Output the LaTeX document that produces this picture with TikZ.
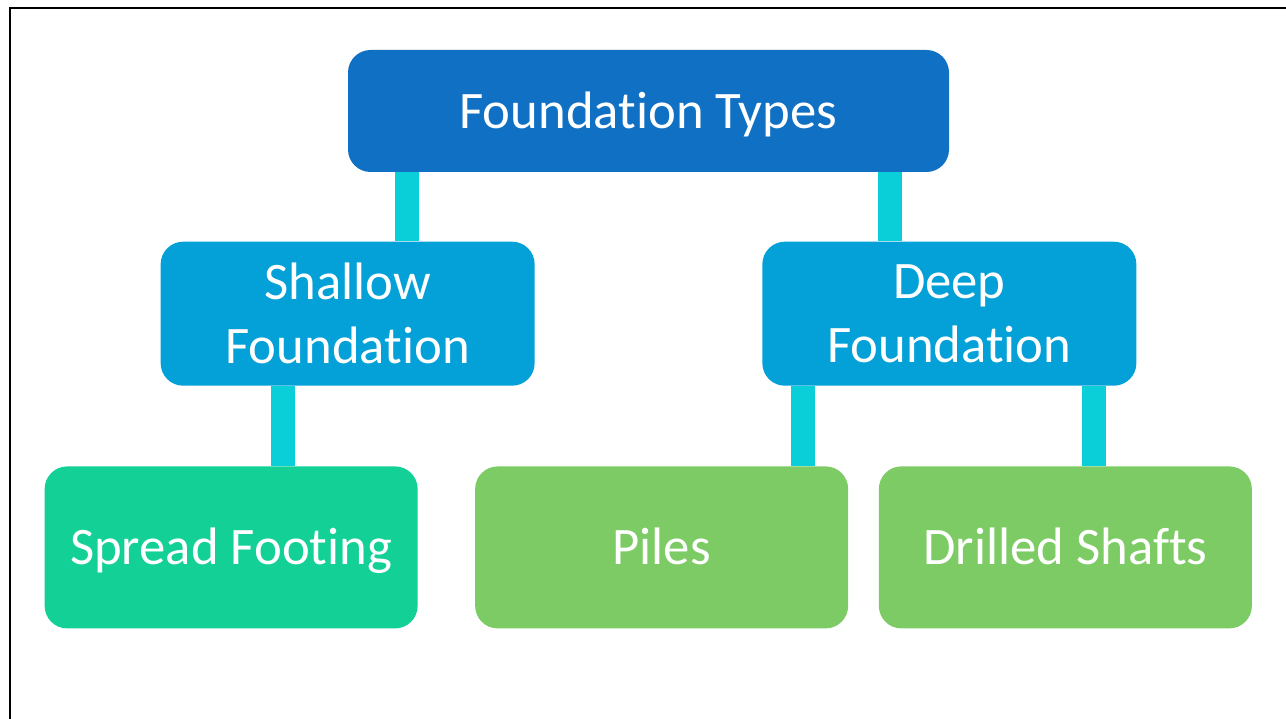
\documentclass[tikz,border=0pt]{standalone}
\usepackage{fontspec}
\setmainfont{Carlito}[Ligatures=NoCommon,RawFeature={-calt}]
\usepackage{tikz}
\usetikzlibrary{backgrounds}
\usetikzlibrary{positioning}
\definecolor{typesBlue}{HTML}{1070C4}
\definecolor{groupBlue}{HTML}{04A0D8}
\definecolor{spreadGreen}{HTML}{13D096}
\definecolor{deepGreen}{HTML}{7DCB64}
\definecolor{linkCyan}{HTML}{0BCFD8}
\begin{document}
\begin{tikzpicture}
      [typeBox/.style={rectangle,rounded corners=0.45cm,text=white,align=center,
        font=\fontsize{30}{36.6}\selectfont,inner sep=0pt},
       topBox/.style={typeBox,fill=typesBlue,minimum width=12.02cm,minimum height=2.44cm,
        text height=19.8pt,text depth=0pt},
       groupBox/.style={typeBox,fill=groupBlue,minimum width=7.48cm,minimum height=2.88cm},
       leafBox/.style={typeBox,minimum width=7.46cm,minimum height=3.24cm,
        text height=19.8pt,text depth=0pt},
       linkBar/.style={draw=linkCyan,line width=0.48cm}]
      \useasboundingbox (0,0) rectangle (25.72,-14.38);
      \draw[line width=0.04cm] (0.2,-14.38) -- (0.2,-0.17) -- (25.72,-0.17);
      \node[topBox] (types) at (12.97,-2.22) {Foundation Types};
      \node[groupBox] (shallow) [below=1.38cm of types.south west] {Shallow\\Foundation};
      \node[groupBox] (deep) [below=1.38cm of types.south east] {Deep\\Foundation};
      \node[leafBox,fill=spreadGreen] (spread) [below=1.6cm of shallow,xshift=-2.33cm] {Spread Footing};
      \node[leafBox,fill=deepGreen] (drilled) [below=1.6cm of deep,xshift=2.32cm] {Drilled Shafts};
      \node[leafBox,fill=deepGreen] (piles) [left=0.6cm of drilled] {Piles};
      \begin{scope}[on background layer]
        \draw[linkBar] ([xshift=1.18cm]shallow.north) -- ([xshift=1.18cm]shallow.north |- types.south);
        \draw[linkBar] ([xshift=-1.18cm]deep.north) -- ([xshift=-1.18cm]deep.north |- types.south);
        \draw[linkBar] ([xshift=1.03cm]spread.north) -- ([xshift=1.03cm]spread.north |- shallow.south);
        \draw[linkBar] ([xshift=2.82cm]piles.north) -- ([xshift=2.82cm]piles.north |- deep.south);
        \draw[linkBar] ([xshift=0.58cm]drilled.north) -- ([xshift=0.58cm]drilled.north |- deep.south);
      \end{scope}
    \end{tikzpicture}
\end{document}
